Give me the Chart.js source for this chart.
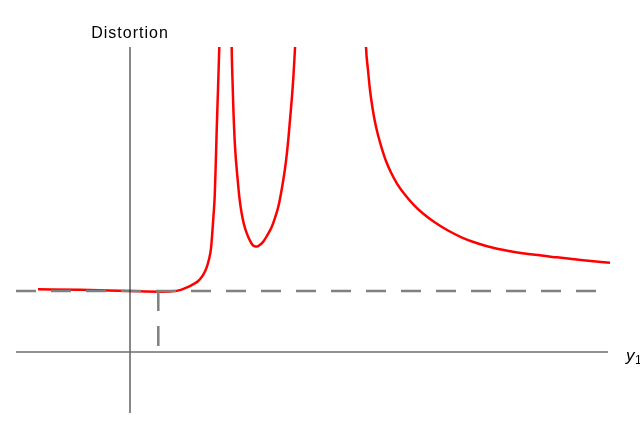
<!DOCTYPE html>
<html>
<head>
<meta charset="utf-8">
<script src="https://cdn.jsdelivr.net/npm/chart.js@4.4.0/dist/chart.umd.min.js"></script>
<style>
  html, body { margin: 0; padding: 0; background: #fff; }
  #wrap { width: 640px; height: 435px; }
</style>
</head>
<body>
<div id="wrap"><canvas id="distChart"></canvas></div>
<script>
// distortion curve, three branches split by the resonances
const branch1X = [-0.92, -0.50, 0, 0.30, 0.42, 0.50, 0.57, 0.63, 0.68, 0.73, 0.765, 0.79, 0.81, 0.825, 0.837, 0.847, 0.858, 0.867, 0.88, 0.893, 0.898];
const branch1Y = [1.03, 1.02, 1.0, 0.99, 0.995, 1.015, 1.06, 1.11, 1.16, 1.26, 1.38, 1.52, 1.70, 2.0, 2.28, 2.55, 3.11, 3.64, 4.30, 5.0, 5.28];

const branch2X = [1.015, 1.017, 1.025, 1.033, 1.05, 1.077, 1.095, 1.117, 1.14, 1.167, 1.205, 1.23, 1.25, 1.27, 1.29, 1.333, 1.375, 1.417, 1.45, 1.483, 1.533, 1.56, 1.583, 1.617, 1.635, 1.65, 1.66];
const branch2Y = [5.28, 4.98, 4.46, 4.02, 3.37, 2.82, 2.52, 2.27, 2.09, 1.95, 1.81, 1.748, 1.732, 1.728, 1.745, 1.81, 1.92, 2.05, 2.20, 2.38, 2.82, 3.13, 3.48, 4.13, 4.54, 4.98, 5.28];

const branch3X = [2.355, 2.36, 2.38, 2.40, 2.425, 2.45, 2.48, 2.517, 2.56, 2.61, 2.67, 2.74, 2.83, 2.93, 3.05, 3.18, 3.32, 3.48, 3.65, 3.83, 4.05, 4.27, 4.53, 4.80];
const branch3Y = [5.279, 5.005, 4.623, 4.295, 4.0, 3.770, 3.557, 3.344, 3.131, 2.943, 2.762, 2.598, 2.426, 2.270, 2.123, 1.992, 1.877, 1.779, 1.700, 1.644, 1.593, 1.552, 1.505, 1.464];

// reference lines: axes, unit distortion level, marked y1 value
const axisXRange = [-1.14, 4.78];
const axisYRange = [-1.0, 5.0];
const unitLevel = 1.0;
const markedY1 = 0.283;

const toPoints = (xs, ys) => xs.map((x, i) => ({ x: x, y: ys[i] }));

const curve = (xs, ys) => ({
  data: toPoints(xs, ys),
  borderColor: '#ff0000',
  borderWidth: 2.5,
  cubicInterpolationMode: 'monotone',
  pointRadius: 0
});

const guide = (pts, color, width, dash) => ({
  data: pts,
  borderColor: color,
  borderWidth: width,
  borderDash: dash,
  pointRadius: 0,
  tension: 0
});

const labels = {
  id: 'labels',
  afterDraw(chart) {
    const { ctx, scales } = chart;
    ctx.save();
    ctx.fillStyle = '#000';
    ctx.font = '16px "Liberation Sans", Arial, sans-serif';
    ctx.letterSpacing = '1px';
    ctx.textAlign = 'center';
    ctx.textBaseline = 'alphabetic';
    ctx.fillText('Distortion', scales.x.getPixelForValue(0), 38);
    ctx.letterSpacing = '0px';
    ctx.textAlign = 'left';
    ctx.font = 'italic 17px "Liberation Sans", Arial, sans-serif';
    const yb = scales.y.getPixelForValue(0) + 9;
    ctx.fillText('y', 626, yb);
    ctx.font = '12px "Liberation Sans", Arial, sans-serif';
    ctx.fillText('1', 635, yb + 3);
    ctx.restore();
  }
};

new Chart(document.getElementById('distChart'), {
  type: 'scatter',
  data: {
    datasets: [
      guide([{ x: axisXRange[0], y: 0 }, { x: axisXRange[1], y: 0 }], '#6e6e6e', 1.5, []),
      guide([{ x: 0, y: axisYRange[0] }, { x: 0, y: axisYRange[1] }], '#111', 1, []),
      guide([{ x: axisXRange[0], y: unitLevel }, { x: axisXRange[1], y: unitLevel }], '#808080', 2.5, [20, 15]),
      guide([{ x: markedY1, y: unitLevel }, { x: markedY1, y: 0 }], '#808080', 2.5, [20, 15]),
      curve(branch1X, branch1Y),
      curve(branch2X, branch2Y),
      curve(branch3X, branch3Y)
    ].map(d => Object.assign(d, { showLine: true }))
  },
  options: {
    responsive: true,
    maintainAspectRatio: false,
    animation: false,
    layout: { padding: { top: 47, left: 0, right: 0, bottom: 0 } },
    plugins: {
      legend: { display: false },
      tooltip: { enabled: false }
    },
    scales: {
      x: { type: 'linear', min: -1.3, max: 5.1, display: false },
      y: { type: 'linear', min: -1.36, max: 5.0, display: false }
    }
  },
  plugins: [labels]
});
</script>
</body>
</html>
